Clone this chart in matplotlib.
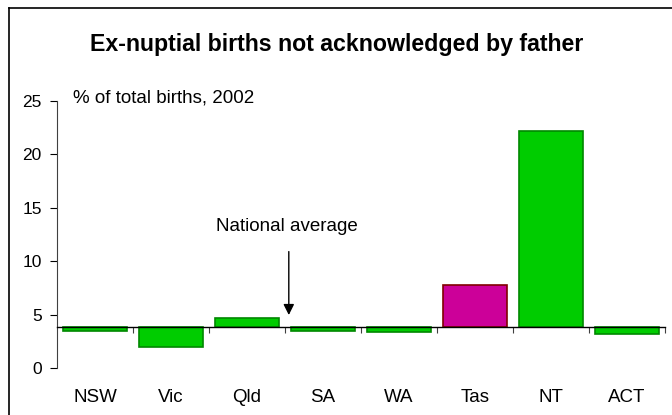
import matplotlib.pyplot as plt
import matplotlib.lines as mlines

plt.rcParams['font.family'] = ['Liberation Sans', 'DejaVu Sans']

# data
states = ['NSW', 'Vic', 'Qld', 'SA', 'WA', 'Tas', 'NT', 'ACT']
values = [3.5, 2.0, 4.7, 3.5, 3.4, 7.8, 22.2, 3.2]
national_avg = 3.8
highlight = 'Tas'

fig = plt.figure(figsize=(6.72, 4.15), dpi=100)
ax = fig.add_axes([57/672, 47/415, 608/672, 267/415])

x = list(range(len(states)))
fills = ['#CC0099' if s == highlight else '#00CC00' for s in states]
edges = ['#800000' if s == highlight else '#008800' for s in states]
heights = [v - national_avg for v in values]
ax.bar(x, heights, bottom=national_avg, width=0.84, color=fills,
       edgecolor=edges, linewidth=1.2, zorder=2)

ax.set_xlim(-0.5, len(states) - 0.5)
ax.set_ylim(0, 25)
ax.set_yticks([0, 5, 10, 15, 20, 25])
ax.tick_params(axis='y', direction='out', length=5, width=0.8, labelsize=12.5, pad=6)

# x axis sits on the national average
for s in ['top', 'right']:
    ax.spines[s].set_visible(False)
ax.spines['bottom'].set_position(('data', national_avg))
ax.spines['bottom'].set_linewidth(1.0)
ax.spines['left'].set_linewidth(0.8)
ax.spines['left'].set_color('#404040')
ax.set_xticks([i + 0.5 for i in x])
ax.set_xticklabels([])
ax.tick_params(axis='x', direction='out', length=4, width=0.8, color='#404040')

for i, s in enumerate(states):
    ax.text(i, -0.127, s, transform=ax.get_xaxis_transform(),
            ha='center', va='baseline', fontsize=13.5)

ax.text(-0.29, 24.9, '% of total births, 2002', ha='left', va='baseline', fontsize=13.5)

ax.text(2.53, 12.86, 'National average', ha='center', va='baseline', fontsize=13.5)
ax.annotate('', xy=(2.55, 4.96), xytext=(2.55, 10.9),
            arrowprops=dict(arrowstyle='-|>', color='black', lw=1.0,
                            mutation_scale=16, shrinkA=0, shrinkB=0))

fig.text(337/672, 1 - 51/415, 'Ex-nuptial births not acknowledged by father',
         ha='center', va='baseline', fontsize=16.7, fontweight='bold')

# outer frame (left and top edges visible)
fig.add_artist(mlines.Line2D([9/672, 9/672], [0, 1 - 8/415], color='black', lw=1.2))
fig.add_artist(mlines.Line2D([9/672, 1], [1 - 8/415, 1 - 8/415], color='black', lw=1.2))

fig.savefig('out.png', dpi=100)
